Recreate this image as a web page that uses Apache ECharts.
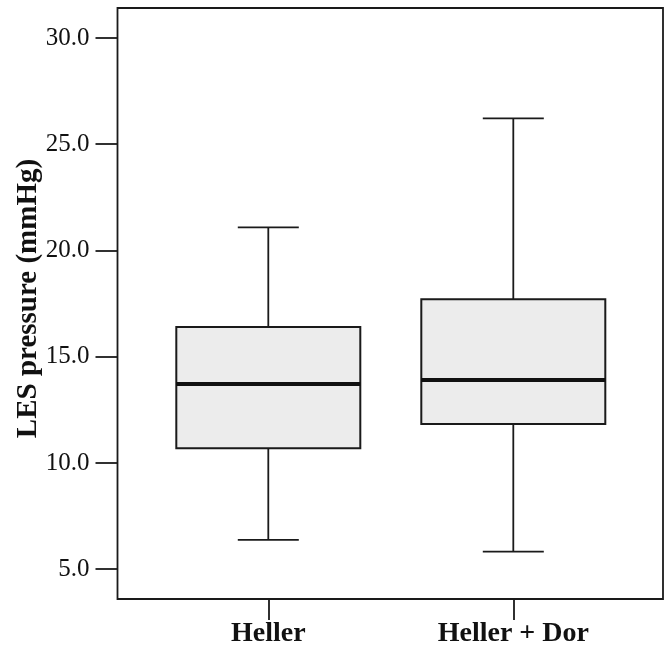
<!DOCTYPE html>
<html>
<head>
<meta charset="utf-8">
<script src="https://cdn.jsdelivr.net/npm/echarts@6/dist/echarts.min.js"></script>
<style>
html,body{margin:0;padding:0;background:#fff;}
#main{width:669px;height:654px;}
</style>
</head>
<body>
<div id="main"></div>
<script>
// ---- data ----
const categories = ['Heller', 'Heller + Dor'];
const minVals    = [6.38, 5.83];
const q1Vals     = [10.69, 11.84];
const medianVals = [13.72, 13.91];
const q3Vals     = [16.40, 17.70];
const maxVals    = [21.09, 26.22];
const yTickValues = [5, 10, 15, 20, 25, 30];
const xTickValues = [0, 1];
const yAxisTitle = 'LES pressure (mmHg)';

const boxData = categories.map((c, i) => [i, minVals[i], q1Vals[i], medianVals[i], q3Vals[i], maxVals[i]]);

const chart = echarts.init(document.getElementById('main'), null, {renderer: 'canvas'});

function renderBox(params, api) {
  const x = api.value(0);
  const vMin = api.value(1), vQ1 = api.value(2), vMed = api.value(3), vQ3 = api.value(4), vMax = api.value(5);
  const unit = api.size([1, 0])[0];
  const halfBox = unit * 0.3755;
  const halfCap = unit * 0.1245;
  const pMin = api.coord([x, vMin]);
  const pQ1 = api.coord([x, vQ1]);
  const pMed = api.coord([x, vMed]);
  const pQ3 = api.coord([x, vQ3]);
  const pMax = api.coord([x, vMax]);
  const cx = pMed[0];
  const lineStyle = {stroke: '#1a1a1a', lineWidth: 1.8, fill: null};
  return {
    type: 'group',
    children: [
      {type: 'line', shape: {x1: cx, y1: pQ3[1], x2: cx, y2: pMax[1]}, style: lineStyle},
      {type: 'line', shape: {x1: cx - halfCap, y1: pMax[1], x2: cx + halfCap, y2: pMax[1]}, style: lineStyle},
      {type: 'line', shape: {x1: cx, y1: pQ1[1], x2: cx, y2: pMin[1]}, style: lineStyle},
      {type: 'line', shape: {x1: cx - halfCap, y1: pMin[1], x2: cx + halfCap, y2: pMin[1]}, style: lineStyle},
      {type: 'rect', shape: {x: cx - halfBox, y: pQ3[1], width: halfBox * 2, height: pQ1[1] - pQ3[1]},
        style: {fill: '#ececec', stroke: '#1a1a1a', lineWidth: 2}},
      {type: 'line', shape: {x1: cx - halfBox, y1: pMed[1], x2: cx + halfBox, y2: pMed[1]},
        style: {stroke: '#111', lineWidth: 4}}
    ]
  };
}

chart.setOption({
  animation: false,
  backgroundColor: '#fff',
  grid: {
    left: 117.5, top: 8, right: 6, bottom: 55,
    outerBoundsMode: 'none',
    containLabel: false,
    show: true, borderColor: '#1a1a1a', borderWidth: 1.8, backgroundColor: 'transparent'
  },
  xAxis: {
    type: 'value',
    min: -0.6155, max: 1.611,
    splitLine: {show: false},
    axisLine: {show: false, onZero: false},
    axisTick: {show: true, length: 21, inside: false, customValues: xTickValues,
      lineStyle: {color: '#1a1a1a', width: 1.8}},
    axisLabel: {
      customValues: xTickValues,
      formatter: v => categories[Math.round(v)] || '',
      margin: 21,
      fontFamily: 'Liberation Serif', fontWeight: 'bold', fontSize: 28, color: '#111'
    }
  },
  yAxis: {
    type: 'value',
    min: 3.6, max: 31.41,
    splitLine: {show: false},
    axisLine: {show: false, onZero: false},
    axisTick: {show: true, length: 22, inside: false, customValues: yTickValues,
      lineStyle: {color: '#1a1a1a', width: 1.8}},
    axisLabel: {
      customValues: yTickValues,
      formatter: v => v.toFixed(1),
      margin: 28,
      fontFamily: 'Liberation Serif', fontSize: 25, color: '#111'
    },
    name: yAxisTitle,
    nameLocation: 'middle',
    nameGap: 74,
    nameRotate: 90,
    nameMoveOverlap: false,
    nameTextStyle: {fontFamily: 'Liberation Serif', fontWeight: 'bold', fontSize: 29, color: '#111',
      padding: [0, 0, 0, 10]}
  },
  series: [{
    type: 'custom',
    renderItem: renderBox,
    encode: {x: 0, y: [1, 2, 3, 4, 5]},
    data: boxData
  }]
});
</script>
</body>
</html>
